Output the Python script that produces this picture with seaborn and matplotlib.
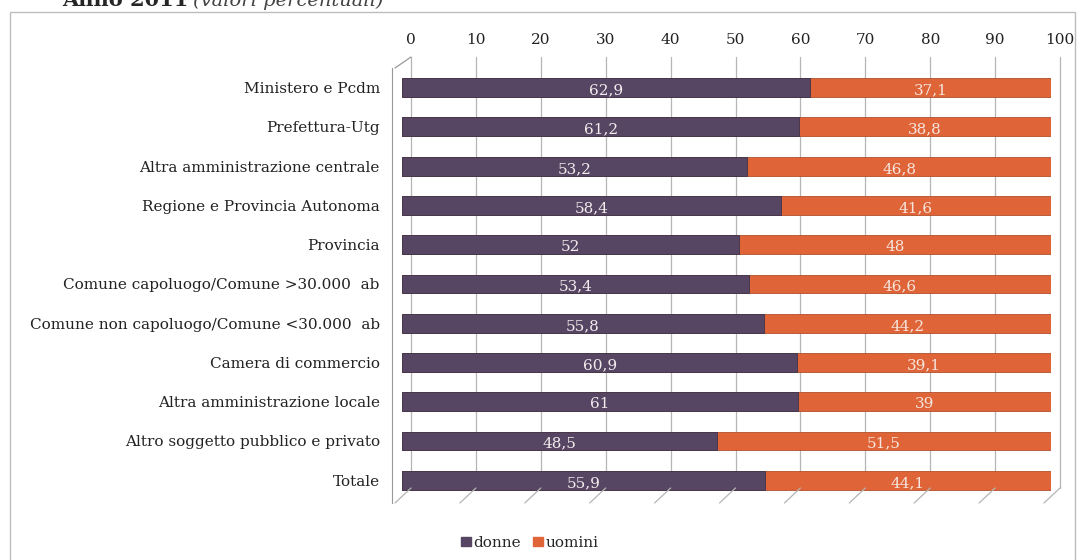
import pandas as pd
import seaborn as sns
import matplotlib.pyplot as plt
from matplotlib.patches import Patch, Rectangle
from matplotlib.transforms import ScaledTranslation, blended_transform_factory

# values (percent)
categories = [
    "Ministero e Pcdm",
    "Prefettura-Utg",
    "Altra amministrazione centrale",
    "Regione e Provincia Autonoma",
    "Provincia",
    "Comune capoluogo/Comune >30.000  ab",
    "Comune non capoluogo/Comune <30.000  ab",
    "Camera di commercio",
    "Altra amministrazione locale",
    "Altro soggetto pubblico e privato",
    "Totale",
]
donne = [62.9, 61.2, 53.2, 58.4, 52, 53.4, 55.8, 60.9, 61, 48.5, 55.9]
uomini = [37.1, 38.8, 46.8, 41.6, 48, 46.6, 44.2, 39.1, 39, 51.5, 44.1]
x_ticks = [0, 10, 20, 30, 40, 50, 60, 70, 80, 90, 100]

col_donne = "#564563"
col_uomini = "#DF6538"

df = pd.DataFrame({"ente": categories, "donne": donne, "uomini": uomini})
df["totale"] = df["donne"] + df["uomini"]

sns.set_style("white")
plt.rcParams["font.family"] = ["DejaVu Serif"]

W, H = 1090, 560
fig = plt.figure(figsize=(W / 100, H / 100), dpi=100)
ax = fig.add_axes([402 / W, (H - 503) / H, 649 / W, 435 / H])

# stacked bars: full length in orange, donne on top
sns.barplot(data=df, y="ente", x="totale", color=col_uomini, width=0.48,
            orient="h", ax=ax, saturation=1, edgecolor="#b24f2b", linewidth=0.6)
sns.barplot(data=df, y="ente", x="donne", color=col_donne, width=0.48,
            orient="h", ax=ax, saturation=1, edgecolor="#3f3249", linewidth=0.6)

ax.set_xlim(0, 100)
ax.set_ylim(10.58, -0.35)
ax.set_xlabel("")
ax.set_ylabel("")

# data labels in the middle of each segment (sitting a little low, as in the source)
for i, (d, u) in enumerate(zip(donne, uomini)):
    ax.text(d / 2, i + 0.07, f"{d:g}".replace(".", ","), ha="center", va="center",
            color="#f3ecec", fontsize=11)
    ax.text(d + u / 2, i + 0.07, f"{u:g}".replace(".", ","), ha="center", va="center",
            color="#f6e6df", fontsize=11)

# back wall of the 3d chart: 9 px right, 15 px up
back = ScaledTranslation(0.09, 0.15, fig.dpi_scale_trans)
ax.xaxis.tick_top()
ax.set_xticks(x_ticks)
ax.set_xticklabels([str(t) for t in x_ticks], fontsize=11, color="#222222")
ax.tick_params(axis="x", length=0, pad=4)
for lab in ax.get_xticklabels():
    lab.set_transform(lab.get_transform() + back)

# vertical gridlines on the back wall
grid_tr = blended_transform_factory(ax.transData, fig.transFigure) + ScaledTranslation(0.09, 0, fig.dpi_scale_trans)
for t in x_ticks:
    ax.plot([t, t], [1 - 488 / H, 1 - 57 / H], color="#b5b5b5", lw=0.9,
            zorder=0, clip_on=False, transform=grid_tr)

# slanted floor lines from the front edge to the back wall
front_tr = ax.get_xaxis_transform() + ScaledTranslation(-0.07, 0, fig.dpi_scale_trans)
back_tr = ax.get_xaxis_transform() + back
for t in x_ticks:
    x0, y0 = fig.transFigure.inverted().transform(front_tr.transform((t, 0)))
    x1, y1 = fig.transFigure.inverted().transform(back_tr.transform((t, 0)))
    fig.add_artist(plt.Line2D([x0, x1], [y0, y1], color="#b5b5b5", lw=0.9))

ax.tick_params(axis="y", length=0, pad=9, labelsize=11, labelcolor="#222222")
ax.set_yticks([i + 0.5 for i in range(-1, len(categories))], minor=True)
ax.tick_params(axis="y", which="minor", length=4, color="#999999")

for s in ["top", "right", "bottom"]:
    ax.spines[s].set_visible(False)
ax.spines["left"].set_color("#999999")
ax.spines["left"].set_position(("outward", 7))

# top-left corner of the 3d wall
fig.add_artist(plt.Line2D([395 / W, 411 / W], [1 - 68 / H, 1 - 57 / H],
                          color="#999999", lw=0.9))

# outer frame of the chart
fig.patches.append(Rectangle((10 / W, -0.05), 1065 / W, 1.05 - 12 / H,
                             transform=fig.transFigure, fill=False,
                             edgecolor="#bdbdbd", lw=1))

# title, cut at the top edge as in the source
fig.text(62 / W, 1 - 6 / H, "Anno 2011", fontsize=15, fontweight="bold",
         va="baseline", ha="left")
fig.text(193 / W, 1 - 6 / H, "(valori percentuali)", fontsize=14,
         style="italic", va="baseline", ha="left", color="#444444")

handles = [Patch(color=col_donne, label="donne"), Patch(color=col_uomini, label="uomini")]
fig.legend(handles=handles, loc="center", bbox_to_anchor=(530 / W, 1 - 543 / H),
           ncol=2, frameon=False, fontsize=11, handlelength=0.6, handleheight=0.6,
           handletextpad=0.2, columnspacing=0.8)

fig.savefig("out.png", dpi=100)
